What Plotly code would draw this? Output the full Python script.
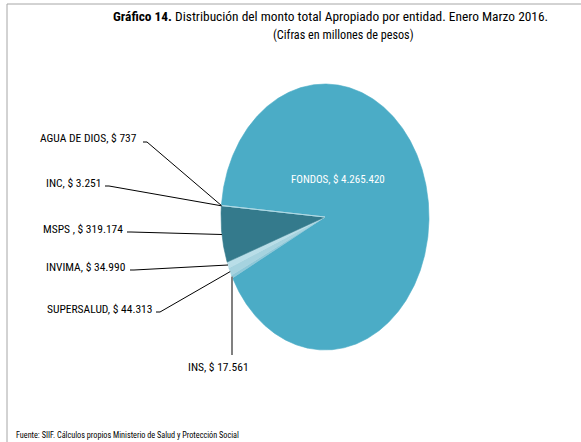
import numpy as np
import plotly.graph_objects as go

# ---- data ----
entities = ["FONDOS", "INS", "SUPERSALUD", "INVIMA", "MSPS ", "INC", "AGUA DE DIOS"]
values = [4265420, 17561, 44313, 34990, 319174, 3251, 737]
colors = ["#4BACC6", "#8FC8D8", "#A6D3DF", "#B9DEE8", "#347A8C", "#93CDDD", "#B7DEE8"]

title_bold = "Gráfico 14."
title_rest = "Distribución del monto total Apropiado por entidad. Enero Marzo 2016."
subtitle = "(Cifras en millones de pesos)"
source = "Fuente: SIIF. Cálculos propios Ministerio de Salud y Protección Social"

# ---- layout constants (pixel space) ----
W, H = 581, 442
CX, CY = 325, 217      # pie centre
RX, RY = 104, 133      # ellipse radii
START = 175.0          # math angle (deg) where the first slice starts, going clockwise
FONT = "Liberation Sans Narrow, Arial Narrow, Roboto Condensed, sans-serif"

def fmt(v):
    return "$ " + f"{v:,}".replace(",", ".")

def pt(theta_deg):
    t = np.radians(theta_deg)
    return CX + RX * np.cos(t), CY - RY * np.sin(t)

total = float(sum(values))
fig = go.Figure()
angles = {}
a = START
for name, v, c in zip(entities, values, colors):
    span = 360.0 * v / total
    a0, a1 = a, a - span
    n = max(3, int(span * 2))
    th = np.linspace(a0, a1, n)
    xs = [CX] + [pt(t)[0] for t in th] + [CX]
    ys = [CY] + [pt(t)[1] for t in th] + [CY]
    fig.add_trace(go.Scatter(x=xs, y=ys, mode="lines", fill="toself", fillcolor=c,
                             line=dict(width=0.6, color=c), hoverinfo="skip",
                             showlegend=False))
    angles[name] = (a0 + a1) / 2.0
    a = a1

# label placement: (text right x, text y, line start, elbow)
labels = {
    "AGUA DE DIOS": dict(xr=139, y=138, p0=(143, 142), p1=(147, 142)),
    "INC":          dict(xr=103, y=183, p0=(105, 186), p1=(109, 186)),
    "MSPS ":        dict(xr=125, y=229, p0=(127, 232), p1=(131, 232)),
    "INVIMA":       dict(xr=128, y=267, p0=(130, 270), p1=(134, 270)),
    "SUPERSALUD":   dict(xr=154, y=309, p0=(156, 312), p1=(160, 312)),
}
LBL = 11.5
shapes = []
annotations = []
for name, v in zip(entities, values):
    if name in labels:
        L = labels[name]
        ex, ey = pt(angles[name])
        shapes.append(dict(type="path", xref="x", yref="y",
                           path=f"M{L['p0'][0]},{L['p0'][1]} L{L['p1'][0]},{L['p1'][1]} L{ex:.1f},{ey:.1f}",
                           line=dict(color="#000000", width=1)))
        annotations.append(dict(x=L["xr"], y=L["y"], xref="x", yref="y", xanchor="right",
                                yanchor="middle", showarrow=False,
                                text=f"{name}, {fmt(v)}",
                                font=dict(family=FONT, size=LBL, color="#000000")))
    elif name == "INS":
        ex, ey = pt(angles[name])
        shapes.append(dict(type="line", xref="x", yref="y", x0=ex, y0=ey, x1=ex, y1=355,
                           line=dict(color="#808080", width=2)))
        annotations.append(dict(x=218, y=367, xref="x", yref="y", xanchor="center",
                                yanchor="middle", showarrow=False,
                                text=f"{name}, {fmt(v)}",
                                font=dict(family=FONT, size=LBL, color="#000000")))
    elif name == "FONDOS":
        annotations.append(dict(x=338, y=179, xref="x", yref="y", xanchor="center",
                                yanchor="middle", showarrow=False,
                                text=f"{name}, {fmt(v)}",
                                font=dict(family=FONT, size=11, color="#FFFFFF")))

annotations += [
    dict(x=330, y=16, xref="x", yref="y", xanchor="center", yanchor="middle", showarrow=False,
         text=f"<b>{title_bold}</b> {title_rest}", font=dict(family=FONT, size=13.4, color="#000")),
    dict(x=343, y=35, xref="x", yref="y", xanchor="center", yanchor="middle", showarrow=False,
         text=subtitle, font=dict(family=FONT, size=12.2, color="#000")),
    dict(x=14, y=435, xref="x", yref="y", xanchor="left", yanchor="middle", showarrow=False,
         text=source, font=dict(family=FONT, size=8.2, color="#000")),
]

# frame lines (top and left)
shapes += [
    dict(type="line", xref="x", yref="y", x0=7, y0=4, x1=W, y1=4, line=dict(color="#A6A6A6", width=1)),
    dict(type="line", xref="x", yref="y", x0=7, y0=4, x1=7, y1=H, line=dict(color="#A6A6A6", width=1)),
]

fig.update_layout(
    width=W, height=H,
    margin=dict(l=0, r=0, t=0, b=0),
    paper_bgcolor="white", plot_bgcolor="white",
    xaxis=dict(range=[0, W], visible=False, fixedrange=True),
    yaxis=dict(range=[H, 0], visible=False, fixedrange=True),
    shapes=shapes, annotations=annotations,
)
fig.write_html("out.html", config={"displayModeBar": False},
               post_script="document.body.style.margin='0';document.body.style.overflow='hidden';")
